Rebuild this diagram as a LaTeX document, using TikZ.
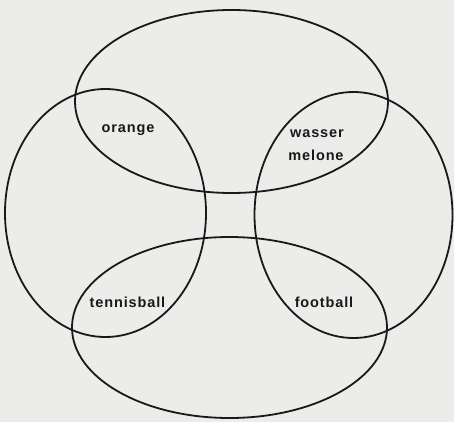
\documentclass[tikz,border=0pt]{standalone}
\usepackage{fontspec}
\newfontfamily\labfont[LetterSpace=6]{Liberation Sans}
\usetikzlibrary{shapes.geometric}
\definecolor{paper}{RGB}{236,236,234}
\definecolor{ink}{RGB}{25,25,25}
\tikzset{
  ring/.style={ellipse, draw=ink, line width=1.8pt, inner sep=0pt, outer sep=0pt},
  lab/.style={font=\labfont\bfseries\fontsize{14.5}{16}\selectfont, text=ink, anchor=base, inner sep=0pt}
}
\begin{document}
\begin{tikzpicture}[x=1pt,y=-1pt]
\fill[paper] (0,0) rectangle (454,422);
\useasboundingbox (0,0) rectangle (454,422);
\node[ring, minimum width=313pt, minimum height=183pt] (top) at (231.5,101.5) {};
\node[ring, minimum width=201pt, minimum height=248pt] (left) at (105.5,213) {};
\node[ring, minimum width=198pt, minimum height=246pt] (right) at (353.5,215) {};
\node[ring, minimum width=315pt, minimum height=181pt] (bottom) at (229.5,327.5) {};
\node[lab] (orange) at (128,132.5) {orange};
\node[lab] (wasser) at (317,137.5) {wasser};
\node[lab] (melone) at (316,160.5) {melone};
\node[lab] (tennis) at (127.5,307) {tennisball};
\node[lab] (football) at (324,307) {football};
\end{tikzpicture}
\end{document}
